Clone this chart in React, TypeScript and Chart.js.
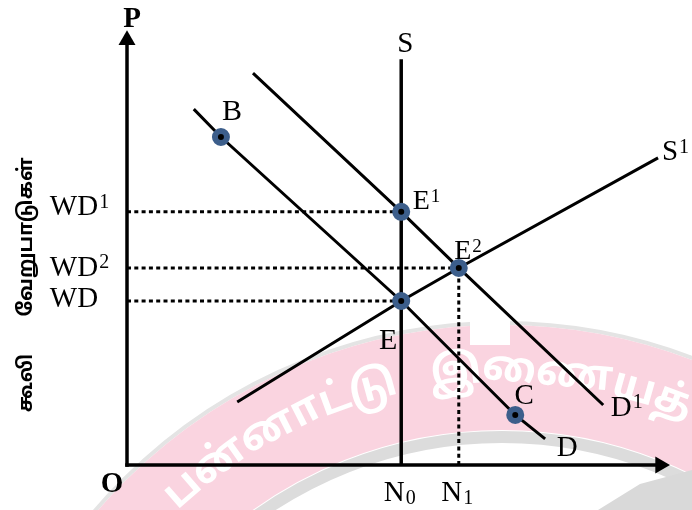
import { useEffect, useRef } from "react";
import { Chart, registerables } from "chart.js";

Chart.register(...registerables);

// ---- data (chart units: x 0..100 = quantity of labour, y 0..100 = wage differential) ----
const demandD_x = [12.3, 17.3, 50.5, 71.5, 77.0];
const demandD_y = [81.8, 75.4, 37.7, 11.5, 6.0];
const demandD1_x = [23.2, 50.5, 61.1, 87.7];
const demandD1_y = [90.1, 58.2, 45.3, 13.8];
const supplyS1_x = [20.3, 50.5, 61.1, 97.8];
const supplyS1_y = [14.5, 37.7, 45.3, 70.6];
const supplyS_x = [50.5, 50.5];
const supplyS_y = [0, 93.3];
const pointNames = ["B", "C", "E", "E1", "E2"];
const point_x = [17.3, 71.5, 50.5, 50.5, 61.1];
const point_y = [75.4, 11.5, 37.7, 58.2, 45.3];
const wageLevelNames = ["WD1", "WD2", "WD"];
const wageLevels = [58.2, 45.3, 37.7];
const wageLevelEnds = [50.5, 61.1, 50.5];
const employmentNames = ["N0", "N1"];
const employment = [50.5, 61.1];
const axisXEnd = 98.2;
const axisYEnd = 97.7;
const yAxisTitleWords = ["கூலி", "வேறுபாடுகள்"];
const watermarkClusters = [
  ["ப", "ன்", "னா", "ட்", "டு"],
  ["இ", "ணை", "ய", "த்"],
];

const pts = (xs: number[], ys: number[]) => xs.map((x, i) => ({ x, y: ys[i] }));

const SERIF = '"Liberation Serif", "Times New Roman", serif';
const TAMIL = '"Noto Sans Tamil", "Lohit Tamil", "Noto Sans", sans-serif';

function drawLabel(
  ctx: CanvasRenderingContext2D,
  text: string,
  cx: number,
  cy: number,
  size: number,
  opts: { sup?: string; sub?: string; bold?: boolean } = {}
) {
  ctx.font = `${opts.bold ? "bold " : ""}${size}px ${SERIF}`;
  ctx.textAlign = "left";
  ctx.textBaseline = "alphabetic";
  ctx.fillStyle = "#000";
  const w = ctx.measureText(text).width;
  const left = cx - w / 2;
  const base = cy + 0.331 * size;
  ctx.fillText(text, left, base);
  const small = Math.round(size * 0.68);
  if (opts.sup) {
    ctx.font = `${small}px ${SERIF}`;
    ctx.fillText(opts.sup, left + w + 1, base - 0.25 * size);
  }
  if (opts.sub) {
    ctx.font = `${small}px ${SERIF}`;
    ctx.fillText(opts.sub, left + w + 1, base + 3);
  }
}

const watermarkPlugin = {
  id: "watermark",
  beforeDatasetsDraw(chart: any) {
    const ctx: CanvasRenderingContext2D = chart.ctx;
    const cx = 502;
    const cy = 858;
    ctx.save();
    ctx.beginPath();
    ctx.arc(cx, cy, 535, 0, Math.PI * 2);
    ctx.strokeStyle = "#e4e4e4";
    ctx.lineWidth = 4;
    ctx.stroke();
    ctx.beginPath();
    ctx.arc(cx, cy, 480.5, 0, Math.PI * 2);
    ctx.strokeStyle = "#fad4e0";
    ctx.lineWidth = 105;
    ctx.stroke();
    ctx.beginPath();
    ctx.arc(cx, cy, 421, 0, Math.PI * 2);
    ctx.strokeStyle = "#dcdcdc";
    ctx.lineWidth = 12;
    ctx.stroke();
    // grey book shape bottom right
    ctx.beginPath();
    ctx.moveTo(598, 510);
    ctx.lineTo(640, 484);
    ctx.lineTo(692, 470);
    ctx.lineTo(692, 510);
    ctx.closePath();
    ctx.fillStyle = "#d9d9d9";
    ctx.fill();
    // white words along the band
    ctx.fillStyle = "#ffffff";
    ctx.font = `bold 42px ${TAMIL}`;
    ctx.textAlign = "left";
    ctx.textBaseline = "middle";
    const r = 484;
    const starts = [-133, -98.5];
    watermarkClusters.forEach((clusters, wi) => {
      let ang = (starts[wi] * Math.PI) / 180;
      clusters.forEach((cl) => {
        const w = ctx.measureText(cl).width;
        const mid = ang + w / 2 / r;
        ctx.save();
        ctx.translate(cx + Math.cos(mid) * r, cy + Math.sin(mid) * r);
        ctx.rotate(mid + Math.PI / 2);
        ctx.fillText(cl, -w / 2, 0);
        ctx.restore();
        ang += w / r;
      });
    });
    ctx.fillStyle = "#ffffff";
    ctx.fillRect(470, 315, 40, 30);
    ctx.restore();
  },
};

const labelPlugin = {
  id: "labels",
  afterDatasetsDraw(chart: any) {
    const ctx: CanvasRenderingContext2D = chart.ctx;
    const X = (v: number) => chart.scales.x.getPixelForValue(v);
    const Y = (v: number) => chart.scales.y.getPixelForValue(v);
    ctx.save();
    // axis letters
    drawLabel(ctx, "P", X(0) + 5, Y(axisYEnd) - 23, 29, { bold: true });
    drawLabel(ctx, "O", X(0) - 15, Y(0) + 17, 29, { bold: true });
    // curve labels
    drawLabel(ctx, "S", X(supplyS_x[1]) + 4, Y(supplyS_y[1]) - 17, 29);
    drawLabel(ctx, "S", X(supplyS1_x[3]) + 12, Y(supplyS1_y[3]) - 7, 29, { sup: "1" });
    drawLabel(ctx, "D", X(demandD_x[4]) + 22, Y(demandD_y[4]) + 8, 29);
    drawLabel(ctx, "D", X(demandD1_x[3]) + 18, Y(demandD1_y[3]) + 1, 29, { sup: "1" });
    // point labels
    const offs: Record<string, [number, number, number]> = {
      B: [11, -27, 30],
      C: [9, -21, 29],
      E: [-13, 38, 30],
      E1: [20, -12, 28],
      E2: [4, -18, 28],
    };
    pointNames.forEach((n, i) => {
      const [dx, dy, sz] = offs[n];
      const main = n.charAt(0);
      const sup = n.length > 1 ? n.slice(1) : undefined;
      drawLabel(ctx, main, X(point_x[i]) + dx, Y(point_y[i]) + dy, sz, { sup });
    });
    // wage level labels
    const wOff = [-6, -2, -4];
    wageLevelNames.forEach((n, i) => {
      const sup = n.length > 2 ? n.slice(2) : undefined;
      drawLabel(ctx, "WD", 74, Y(wageLevels[i]) + wOff[i], 29, { sup });
    });
    // employment labels
    employmentNames.forEach((n, i) => {
      drawLabel(ctx, "N", X(employment[i]) - 7, Y(0) + 26, 29, { sub: n.slice(1) });
    });
    // rotated Tamil axis title
    ctx.fillStyle = "#000";
    ctx.font = `bold 20px ${TAMIL}`;
    ctx.textAlign = "center";
    ctx.textBaseline = "middle";
    const centers = [383, 237];
    yAxisTitleWords.forEach((w, i) => {
      ctx.save();
      ctx.translate(28, centers[i]);
      ctx.rotate(-Math.PI / 2);
      ctx.fillText(w, 0, 0);
      ctx.restore();
    });
    ctx.restore();
  },
};

export default function App() {
  const ref = useRef<HTMLCanvasElement | null>(null);
  useEffect(() => {
    if (!ref.current) return;
    const solid = (data: any[], width = 3) => ({
      data,
      showLine: true,
      borderColor: "#000",
      borderWidth: width,
      pointRadius: 0,
      fill: false,
      clip: false as any,
    });
    const dotted = (data: any[]) => ({
      ...solid(data, 3),
      borderDash: [4, 3.3],
    });
    const chart = new Chart(ref.current, {
      type: "scatter",
      data: {
        datasets: [
          {
            data: pts(point_x, point_y),
            showLine: false,
            pointRadius: 6,
            pointBorderWidth: 6,
            pointBackgroundColor: "#000",
            pointBorderColor: "#3c5e8b",
            clip: false as any,
          },
          solid(pts(demandD_x, demandD_y)),
          solid(pts(demandD1_x, demandD1_y)),
          solid(pts(supplyS1_x, supplyS1_y)),
          solid(pts(supplyS_x, supplyS_y), 3.5),
          ...wageLevels.map((lv, i) =>
            dotted([
              { x: 0, y: lv },
              { x: wageLevelEnds[i], y: lv },
            ])
          ),
          dotted([
            { x: employment[1], y: 0 },
            { x: employment[1], y: wageLevels[1] },
          ]),
          {
            ...solid(
              [
                { x: 0, y: 0 },
                { x: axisXEnd, y: 0 },
              ],
              3.5
            ),
            borderCapStyle: "square",
            pointRadius: [0, 9.8],
            pointStyle: "triangle",
            pointRotation: [0, 90],
            pointBackgroundColor: "#000",
            pointBorderWidth: 0,
          },
          {
            ...solid(
              [
                { x: 0, y: 0 },
                { x: 0, y: axisYEnd },
              ],
              3.5
            ),
            borderCapStyle: "square",
            pointRadius: [0, 9.8],
            pointStyle: "triangle",
            pointRotation: [0, 0],
            pointBackgroundColor: "#000",
            pointBorderWidth: 0,
          },
        ] as any,
      },
      options: {
        animation: false,
        responsive: false,
        maintainAspectRatio: false,
        layout: { padding: { left: 127, right: 22, top: 30, bottom: 45 } },
        scales: {
          x: { type: "linear", min: 0, max: 100, display: false },
          y: { type: "linear", min: 0, max: 100, display: false },
        },
        elements: { line: { tension: 0 } },
        plugins: { legend: { display: false }, tooltip: { enabled: false } },
        events: [],
      },
      plugins: [watermarkPlugin, labelPlugin],
    });
    return () => chart.destroy();
  }, []);
  return (
    <div style={{ position: "fixed", left: 0, top: 0, width: 692, height: 510, background: "#fff" }}>
      <canvas ref={ref} width={692} height={510} style={{ display: "block" }} />
    </div>
  );
}
